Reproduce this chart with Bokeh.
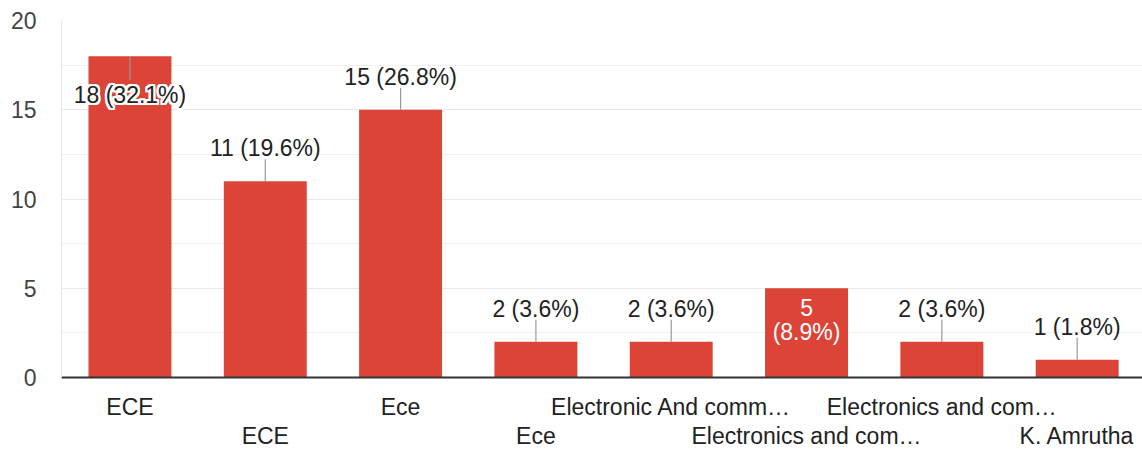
from bokeh.plotting import figure
from bokeh.models import Range1d, FixedTicker, LinearAxis, ColumnDataSource
from bokeh.core.properties import value
from bokeh.embed import file_html
from bokeh.resources import INLINE

# ---- data ----
categories = ["ECE", "ECE", "Ece", "Ece", "Electronic And comm…",
              "Electronics and com…", "Electronics and com…", "K. Amrutha"]
counts = [18, 11, 15, 2, 2, 5, 2, 1]
y_ticks = [0, 5, 10, 15, 20]
y_minor_ticks = [2.5, 7.5, 12.5, 17.5]
label_modes = ["inside_leader", "above", "above", "above", "above", "inside", "above", "above"]

total = sum(counts)
pct_labels = [f"{c} ({100.0 * c / total:.1f}%)" for c in counts]

# ---- layout ----
W, H = 1142, 451
FL, FT, FB = 61, 20, 73
frame_h = H - FT - FB
ppu = frame_h / 20.0  # pixels per unit

FONT = "Liberation Sans"
FS = "23px"
BAR = "#DB4437"

xs = list(range(len(categories)))

p = figure(width=W, height=H, output_backend="svg", toolbar_location=None,
           x_range=Range1d(-0.506, 7.483), y_range=Range1d(0, 20),
           min_border_left=FL, min_border_right=0, min_border_top=FT,
           min_border_bottom=FB, background_fill_color="white",
           border_fill_color="white", outline_line_color=None)

# grid
yt = FixedTicker(ticks=y_ticks, minor_ticks=y_minor_ticks)
p.yaxis.ticker = yt
p.ygrid.ticker = yt
p.ygrid.grid_line_color = "#e8e8e8"
p.ygrid.minor_grid_line_color = "#f0f0f0"
p.xgrid.grid_line_color = None

# y axis
ya = p.yaxis[0]
ya.axis_line_color = "#e8e8e8"
ya.major_tick_line_color = None
ya.minor_tick_line_color = None
ya.major_tick_out = 0
ya.major_label_standoff = 21
ya.major_label_text_font = FONT
ya.major_label_text_font_size = FS
ya.major_label_text_color = "#444444"

# x axes (two staggered rows)
xa = p.xaxis[0]
xa.ticker = FixedTicker(ticks=xs)
xa.major_label_overrides = {i: (c if i % 2 == 0 else "") for i, c in enumerate(categories)}
xa.axis_line_color = "#333333"
xa.axis_line_width = 2
xa.major_tick_line_color = None
xa.minor_tick_line_color = None
xa.major_tick_out = 0
xa.major_label_standoff = 16
xa.major_label_text_font = FONT
xa.major_label_text_font_size = FS
xa.major_label_text_color = "#222222"

xa2 = LinearAxis(ticker=FixedTicker(ticks=xs),
                 major_label_overrides={i: (c if i % 2 == 1 else "") for i, c in enumerate(categories)},
                 axis_line_color=None, major_tick_line_color=None, minor_tick_line_color=None,
                 major_tick_out=0, major_label_standoff=0,
                 major_label_text_font=FONT, major_label_text_font_size=FS,
                 major_label_text_color="#222222")
p.add_layout(xa2, "below")

# bars
src = ColumnDataSource(dict(x=xs, top=counts))
p.vbar(x="x", top="top", width=0.613, bottom=0, fill_color=BAR, line_color=None, source=src)

# labels
ab_x, ab_y, ab_t, ld_x0, ld_y0, ld_y1 = [], [], [], [], [], []
in_x, in_y, in_t = [], [], []
il_x, il_y, il_t = [], [], []
for i, (c, t, m) in enumerate(zip(counts, pct_labels, label_modes)):
    if m == "above":
        ab_x.append(i); ab_y.append(c + 33 / ppu); ab_t.append(t)
        ld_x0.append(i); ld_y0.append(c); ld_y1.append(c + 22 / ppu)
    elif m == "inside_leader":
        il_x.append(i); il_y.append(c - 39 / ppu); il_t.append(t)
        ld_x0.append(i); ld_y0.append(c); ld_y1.append(c - 24 / ppu)
    else:
        n, rest = t.split(" ", 1)
        in_x += [i, i]; in_y += [c - 19.5 / ppu, c - 43.5 / ppu]; in_t += [n, rest]

p.segment(x0=ld_x0, y0=ld_y0, x1=ld_x0, y1=ld_y1, line_color="#999999", line_width=1.2)

text_kw = dict(text_font=value(FONT), text_font_size=FS, text_align="center",
               text_baseline="middle")
p.text(x=ab_x, y=ab_y, text=ab_t, text_color="#222222", **text_kw)
# halo for the label that sits inside the bar
for dx in (-2, -1, 0, 1, 2):
    for dy in (-2, -1, 0, 1, 2):
        if dx == 0 and dy == 0:
            continue
        p.text(x=il_x, y=il_y, text=il_t, text_color="white", x_offset=dx, y_offset=dy, **text_kw)
p.text(x=il_x, y=il_y, text=il_t, text_color="#222222", **text_kw)
p.text(x=in_x, y=in_y, text=in_t, text_color="white", **text_kw)

open("out.html", "w").write(file_html(p, INLINE))
